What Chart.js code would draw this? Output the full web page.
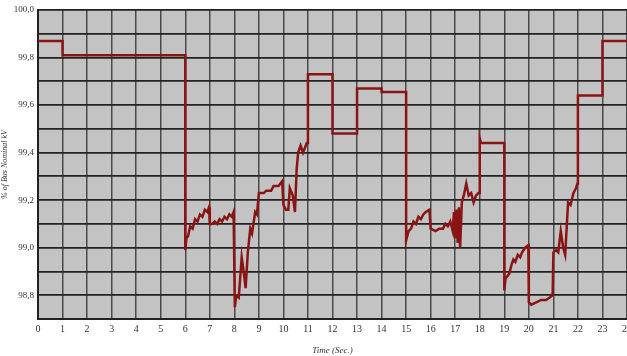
<!DOCTYPE html>
<html>
<head>
<meta charset="utf-8">
<script src="https://cdn.jsdelivr.net/npm/chart.js@4/dist/chart.umd.min.js"></script>
<style>
  html, body { margin: 0; padding: 0; background: #fff; overflow: hidden; }
  #wrap { width: 650px; height: 356px; }
</style>
</head>
<body>
<div id="wrap"><canvas id="busChart" width="650" height="356"></canvas></div>
<script>
// time in seconds, voltage in % of bus nominal kV
const times = [
  0, 1, 1, 6, 6, 6.05, 6.12, 6.2, 6.3, 6.4, 6.5, 6.6, 6.7, 6.8, 6.9, 6.97,
  7.0, 7.1, 7.2, 7.3, 7.4, 7.5, 7.6, 7.7, 7.8, 7.9, 7.97,
  8.02, 8.08, 8.18, 8.3, 8.38, 8.46, 8.55, 8.65, 8.72, 8.85, 8.92,
  9.0, 9.2, 9.3, 9.5, 9.6, 9.8, 9.95,
  10.0, 10.1, 10.2, 10.26, 10.38, 10.47, 10.54, 10.6, 10.7, 10.8, 10.95,
  11.0, 11.0, 12.0, 12.0, 13.0, 13.0, 14.0, 14.0, 15.0,
  15.0, 15.1, 15.2, 15.3, 15.4, 15.5, 15.6, 15.7, 15.8, 15.95,
  16.0, 16.2, 16.35, 16.5, 16.6, 16.7, 16.8, 16.9, 16.95,
  17.0, 17.05, 17.1, 17.15, 17.2, 17.27, 17.35, 17.45, 17.55, 17.65, 17.75, 17.85, 17.95,
  18.0, 18.0, 18.05, 19.0,
  19.0, 19.05, 19.2, 19.3, 19.37, 19.45, 19.55, 19.65, 19.72, 19.85, 19.98,
  20.0, 20.1, 20.3, 20.5, 20.7, 20.85, 20.97,
  21.0, 21.1, 21.2, 21.3, 21.4, 21.48, 21.6, 21.7, 21.82, 21.92, 21.98,
  22.0, 23.0, 23.0, 24.0
];
const values = [
  99.87, 99.87, 99.81, 99.81, 98.99, 99.04, 99.05, 99.09, 99.08, 99.12, 99.11, 99.14, 99.13, 99.16, 99.15, 99.17,
  99.10, 99.10, 99.11, 99.10, 99.12, 99.11, 99.13, 99.12, 99.14, 99.13, 99.15,
  98.75, 98.80, 98.79, 98.96, 98.90, 98.83, 98.98, 99.08, 99.06, 99.15, 99.14,
  99.23, 99.23, 99.24, 99.24, 99.26, 99.26, 99.28,
  99.18, 99.16, 99.16, 99.25, 99.22, 99.15, 99.33, 99.40, 99.43, 99.40, 99.44,
  99.44, 99.73, 99.73, 99.48, 99.48, 99.67, 99.67, 99.655, 99.655,
  99.03, 99.07, 99.08, 99.11, 99.10, 99.13, 99.12, 99.14, 99.15, 99.16,
  99.08, 99.07, 99.08, 99.08, 99.10, 99.09, 99.11, 99.07, 99.15,
  99.04, 99.16, 99.02, 99.17, 99.00, 99.19, 99.22, 99.27, 99.22, 99.23, 99.19, 99.22, 99.23,
  99.23, 99.46, 99.44, 99.44,
  98.82, 98.87, 98.89, 98.93, 98.95, 98.94, 98.97, 98.96, 98.98, 99.00, 99.01,
  98.77, 98.76, 98.77, 98.78, 98.78, 98.79, 98.80,
  98.98, 98.99, 98.98, 99.07, 99.00, 98.97, 99.19, 99.18, 99.23, 99.25, 99.27,
  99.64, 99.64, 99.87, 99.87
];
const yMin = 98.7, yMax = 100.0;
const xMin = 0, xMax = 24;

const points = times.map((t, i) => ({ x: t, y: values[i] }));

// gray plot area
const plotBg = {
  id: 'plotBg',
  beforeDraw(chart) {
    const { ctx, chartArea: a } = chart;
    ctx.save();
    ctx.fillStyle = '#c3c3c3';
    ctx.fillRect(a.left, a.top, a.right - a.left, a.bottom - a.top);
    ctx.restore();
  }
};

const ctx = document.getElementById('busChart').getContext('2d');
new Chart(ctx, {
  type: 'line',
  data: {
    datasets: [{
      data: points,
      borderColor: '#8a1414',
      borderWidth: 2.5,
      pointRadius: 0,
      tension: 0,
      fill: false
    }]
  },
  options: {
    responsive: false,
    animation: false,
    layout: { padding: { top: 10, right: 23, left: 0, bottom: 0 } },
    plugins: { legend: { display: false }, tooltip: { enabled: false } },
    scales: {
      x: {
        type: 'linear',
        min: xMin, max: xMax,
        afterFit: (s) => { s.height = 37; },
        grid: { color: '#4a4a4a', lineWidth: 1.5, drawTicks: false },
        border: { color: '#222', width: 2 },
        ticks: {
          stepSize: 1, padding: 4, color: '#333',
          font: { family: 'Liberation Serif', size: 10 }
        },
        title: {
          display: true, text: 'Time (Sec.)', color: '#333', padding: { top: 2, bottom: 0 },
          font: { family: 'Liberation Serif', size: 9, style: 'italic' }
        }
      },
      y: {
        min: yMin, max: yMax,
        afterFit: (s) => { s.width = 38; },
        grid: { color: '#222', lineWidth: 1.8, drawTicks: false },
        border: { color: '#222', width: 2 },
        ticks: {
          stepSize: 0.1, padding: 4, color: '#333',
          font: { family: 'Liberation Serif', size: 9 },
          callback: (v) => {
            const k = Math.round(v * 10);
            return k % 2 === 0 ? (k / 10).toFixed(1).replace('.', ',') : '';
          }
        },
        title: {
          display: true, text: '% of Bus Nominal kV', color: '#333', padding: 0,
          font: { family: 'Liberation Serif', size: 8, style: 'italic' }
        }
      }
    }
  },
  plugins: [plotBg]
});
</script>
</body>
</html>
